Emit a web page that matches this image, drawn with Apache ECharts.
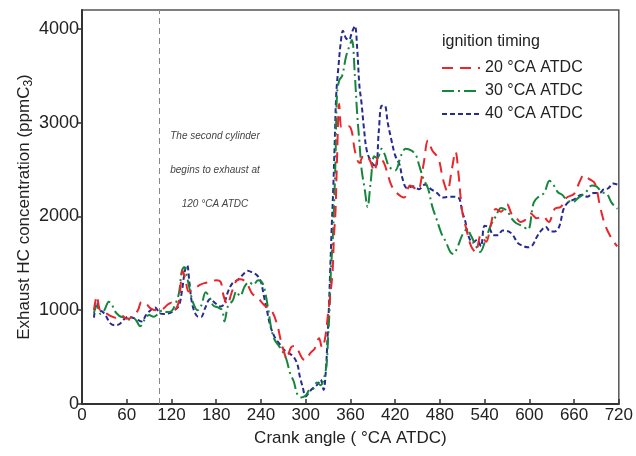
<!DOCTYPE html>
<html>
<head>
<meta charset="utf-8">
<script src="https://cdn.jsdelivr.net/npm/echarts@6/dist/echarts.min.js"></script>
<style>html,body{margin:0;padding:0;background:#fff}#c{width:636px;height:456px}</style>
</head>
<body>
<div id="c"></div>
<script>
const seriesNames = ['20 °CA ATDC', '30 °CA ATDC', '40 °CA ATDC'];
const xTicks = [0, 60, 120, 180, 240, 300, 360, 420, 480, 540, 600, 660, 720];
const yTicks = [0, 1000, 2000, 3000, 4000];
const exhaustStartAngle = 103;

const angle20 = [16,20,24,30,38,45,52,60,68,75,80,86,92,100,108,115,120,125,130,135,139,143,150,158,165,172,180,186,190,195,200,206,212,220,228,236,245,254,262,266,270,275,280,285,290,296,300,306,312,318,322,326,330,333,336,338,340,342,345,348,352,358,362,366,372,378,386,392,398,405,410,415,422,432,440,450,458,464,470,478,484,490,496,501,505,510,516,522,528,535,542,548,555,562,570,576,582,588,594,602,610,618,626,634,642,650,660,668,673,680,688,695,702,710,718];
const hc20 = [1000,1150,1000,980,940,920,950,910,930,1000,1090,1070,1020,1000,1010,1060,1080,1010,1100,1420,1320,1200,1220,1270,1290,1300,1320,1300,1150,1060,1170,1300,1330,1300,1180,1130,1050,1000,840,700,580,480,600,620,570,480,470,540,590,700,600,700,960,1160,1400,1800,2050,2600,3200,2950,2950,2960,2900,2700,2570,2650,2600,2480,2640,2570,2450,2330,2250,2200,2330,2280,2550,2810,2700,2620,2400,2270,2500,2690,2450,2050,1850,1680,1620,1800,1730,1900,2080,2050,2130,2030,1990,1940,1960,2030,1980,2000,1940,2080,2100,2200,2240,2380,2440,2400,2350,2100,1900,1770,1680];

const angle30 = [16,20,25,30,36,40,44,50,56,62,70,78,84,90,96,102,108,114,120,126,130,134,137,141,145,150,155,160,166,171,176,182,188,191,196,202,207,212,218,224,230,236,242,246,250,254,258,264,269,274,279,284,289,294,300,305,310,315,320,324,328,330,332,334,336,338,340,342,345,349,354,358,362,366,369,372,375,379,383,387,392,396,402,406,412,420,428,434,442,448,452,458,464,470,476,482,488,494,498,504,510,516,522,528,534,540,548,555,562,570,576,582,590,598,606,614,620,627,632,638,644,650,658,666,675,684,690,697,704,710,718];
const hc30 = [970,1050,960,1000,1090,1060,990,940,920,900,910,830,900,950,930,960,1000,980,990,1080,1180,1420,1460,1350,1200,1060,1000,1050,1190,1140,1050,1030,1000,880,1050,1100,1200,1150,1250,1300,1270,1320,1290,1180,1000,800,690,620,560,480,330,240,100,70,90,150,160,230,200,260,420,700,1000,1450,1700,2100,2600,3300,3450,3500,3700,3800,3880,3500,3100,2800,2500,2300,2100,2350,2640,2620,2720,2660,2530,2490,2650,2720,2700,2650,2550,2400,2300,2100,1960,1820,1730,1620,1600,1680,1800,1860,1790,1690,1620,1720,1900,2000,2090,2060,1980,1930,1900,1860,2150,2220,2250,2380,2340,2260,2230,2180,2150,2200,2250,2330,2320,2260,2240,2150,2080];

const angle40 = [16,20,24,28,32,38,44,50,56,62,68,74,80,86,92,98,104,110,118,124,130,134,138,141,144,147,151,156,160,165,172,178,185,190,196,202,210,216,222,229,235,240,244,248,252,258,265,272,278,284,289,292,296,300,305,310,316,320,324,327,329,331,333,335,337,339,341,344,347,350,354,358,362,366,369,372,375,378,382,388,394,398,402,406,410,414,420,426,430,436,444,452,460,468,476,484,492,500,506,510,514,518,524,530,535,540,546,552,558,564,572,578,584,590,598,604,610,616,622,628,634,640,646,652,660,670,678,686,694,700,706,712,718];
const hc40 = [920,1080,1000,980,940,860,840,850,900,930,920,900,880,950,1000,1030,970,960,970,1000,1050,1200,1420,1480,1300,1100,980,930,930,1020,1120,1080,1040,1060,1200,1290,1330,1380,1420,1400,1370,1300,1150,1000,850,720,640,570,540,500,420,300,180,80,130,170,210,260,150,350,650,1000,1450,1900,2300,2800,3300,3600,3850,3980,3900,3880,3960,4030,3800,3400,3200,2950,2700,2580,2530,2900,3180,3180,3000,2850,2650,2550,2400,2300,2320,2290,2340,2290,2250,2200,2210,2210,2190,2050,1950,1800,1720,1750,1680,1900,1880,1800,1800,1850,1840,1800,1720,1690,1670,1690,1780,1850,1890,1840,1840,1890,2080,2150,2180,2230,2210,2250,2250,2290,2300,2350,2340];

function zip(xs, ys) { return xs.map((x, i) => [x, ys[i]]); }

const chart = echarts.init(document.getElementById('c'), null, {renderer: 'canvas'});
const font = 'Liberation Sans, Arial, Helvetica, sans-serif';
const colors = ['#e8262b', '#14873c', '#262b8f'];
const dashes = [[11, 7], [12, 4, 2, 4], [5, 3]];
const sets = [zip(angle20, hc20), zip(angle30, hc30), zip(angle40, hc40)];

chart.setOption({
  animation: false,
  backgroundColor: '#fff',
  textStyle: {fontFamily: font},
  grid: {left: 82, right: 16, top: 10, bottom: 52, show: true, borderColor: '#555', borderWidth: 1.5, backgroundColor: 'transparent'},
  xAxis: {
    type: 'value', min: xTicks[0], max: xTicks[xTicks.length - 1], interval: 60,
    name: 'Crank angle ( °CA ATDC)', nameLocation: 'middle', nameGap: 26, nameMoveOverlap: false,
    nameTextStyle: {fontSize: 17, color: '#222', fontFamily: font},
    axisLine: {show: true, onZero: false, lineStyle: {color: '#333', width: 2}},
    axisTick: {show: true, inside: true, length: 5, lineStyle: {color: '#333', width: 1.5}},
    axisLabel: {fontSize: 17, color: '#222', margin: 3, fontFamily: font, formatter: v => String(v)},
    splitLine: {show: false}
  },
  yAxis: {
    type: 'value', min: yTicks[0], max: 4200, interval: 1000,
    name: 'Exhaust HC concentration (ppmC{sub|3})', nameLocation: 'middle', nameGap: 47, nameMoveOverlap: false,
    nameTextStyle: {fontSize: 17, color: '#222', fontFamily: font, rich: {sub: {fontSize: 12, color: '#222', padding: [10, 0, 0, 0], fontFamily: font}}},
    axisLine: {show: true, onZero: false, lineStyle: {color: '#333', width: 2}},
    axisTick: {show: true, inside: false, length: 4, lineStyle: {color: '#333', width: 1.5}},
    axisLabel: {fontSize: 18, color: '#222', margin: 3, showMaxLabel: false, fontFamily: font, formatter: v => String(v)},
    splitLine: {show: false}
  },
  legend: {
    orient: 'vertical', left: 436, top: 55, itemWidth: 38, itemHeight: 14, itemGap: 7,
    data: seriesNames,
    itemStyle: {opacity: 0, borderWidth: 0},
    textStyle: {fontSize: 16, color: '#222', fontFamily: font}
  },
  graphic: [
    {type: 'text', left: 442, top: 34, style: {text: 'ignition timing', fontSize: 16, fill: '#222', fontFamily: font}},
    {type: 'text', x: 215, y: 136, style: {text: 'The second cylinder', fontSize: 10, fontStyle: 'italic', fill: '#444', align: 'center', verticalAlign: 'middle', fontFamily: font}},
    {type: 'text', x: 215, y: 170, style: {text: 'begins to exhaust at', fontSize: 10, fontStyle: 'italic', fill: '#444', align: 'center', verticalAlign: 'middle', fontFamily: font}},
    {type: 'text', x: 215, y: 204, style: {text: '120 °CA ATDC', fontSize: 10, fontStyle: 'italic', fill: '#444', align: 'center', verticalAlign: 'middle', fontFamily: font}}
  ],
  series: seriesNames.map((name, i) => ({
    name: name, type: 'line', data: sets[i], symbol: 'none', smooth: 0.35,
    lineStyle: {color: colors[i], width: 2, type: dashes[i]},
    itemStyle: {color: colors[i]},
    z: 3 - i,
    markLine: i === 0 ? {
      silent: true, symbol: 'none', label: {show: false},
      lineStyle: {color: '#888', width: 1, type: [6, 4]},
      data: [{xAxis: exhaustStartAngle}]
    } : undefined
  }))
});
</script>
</body>
</html>
